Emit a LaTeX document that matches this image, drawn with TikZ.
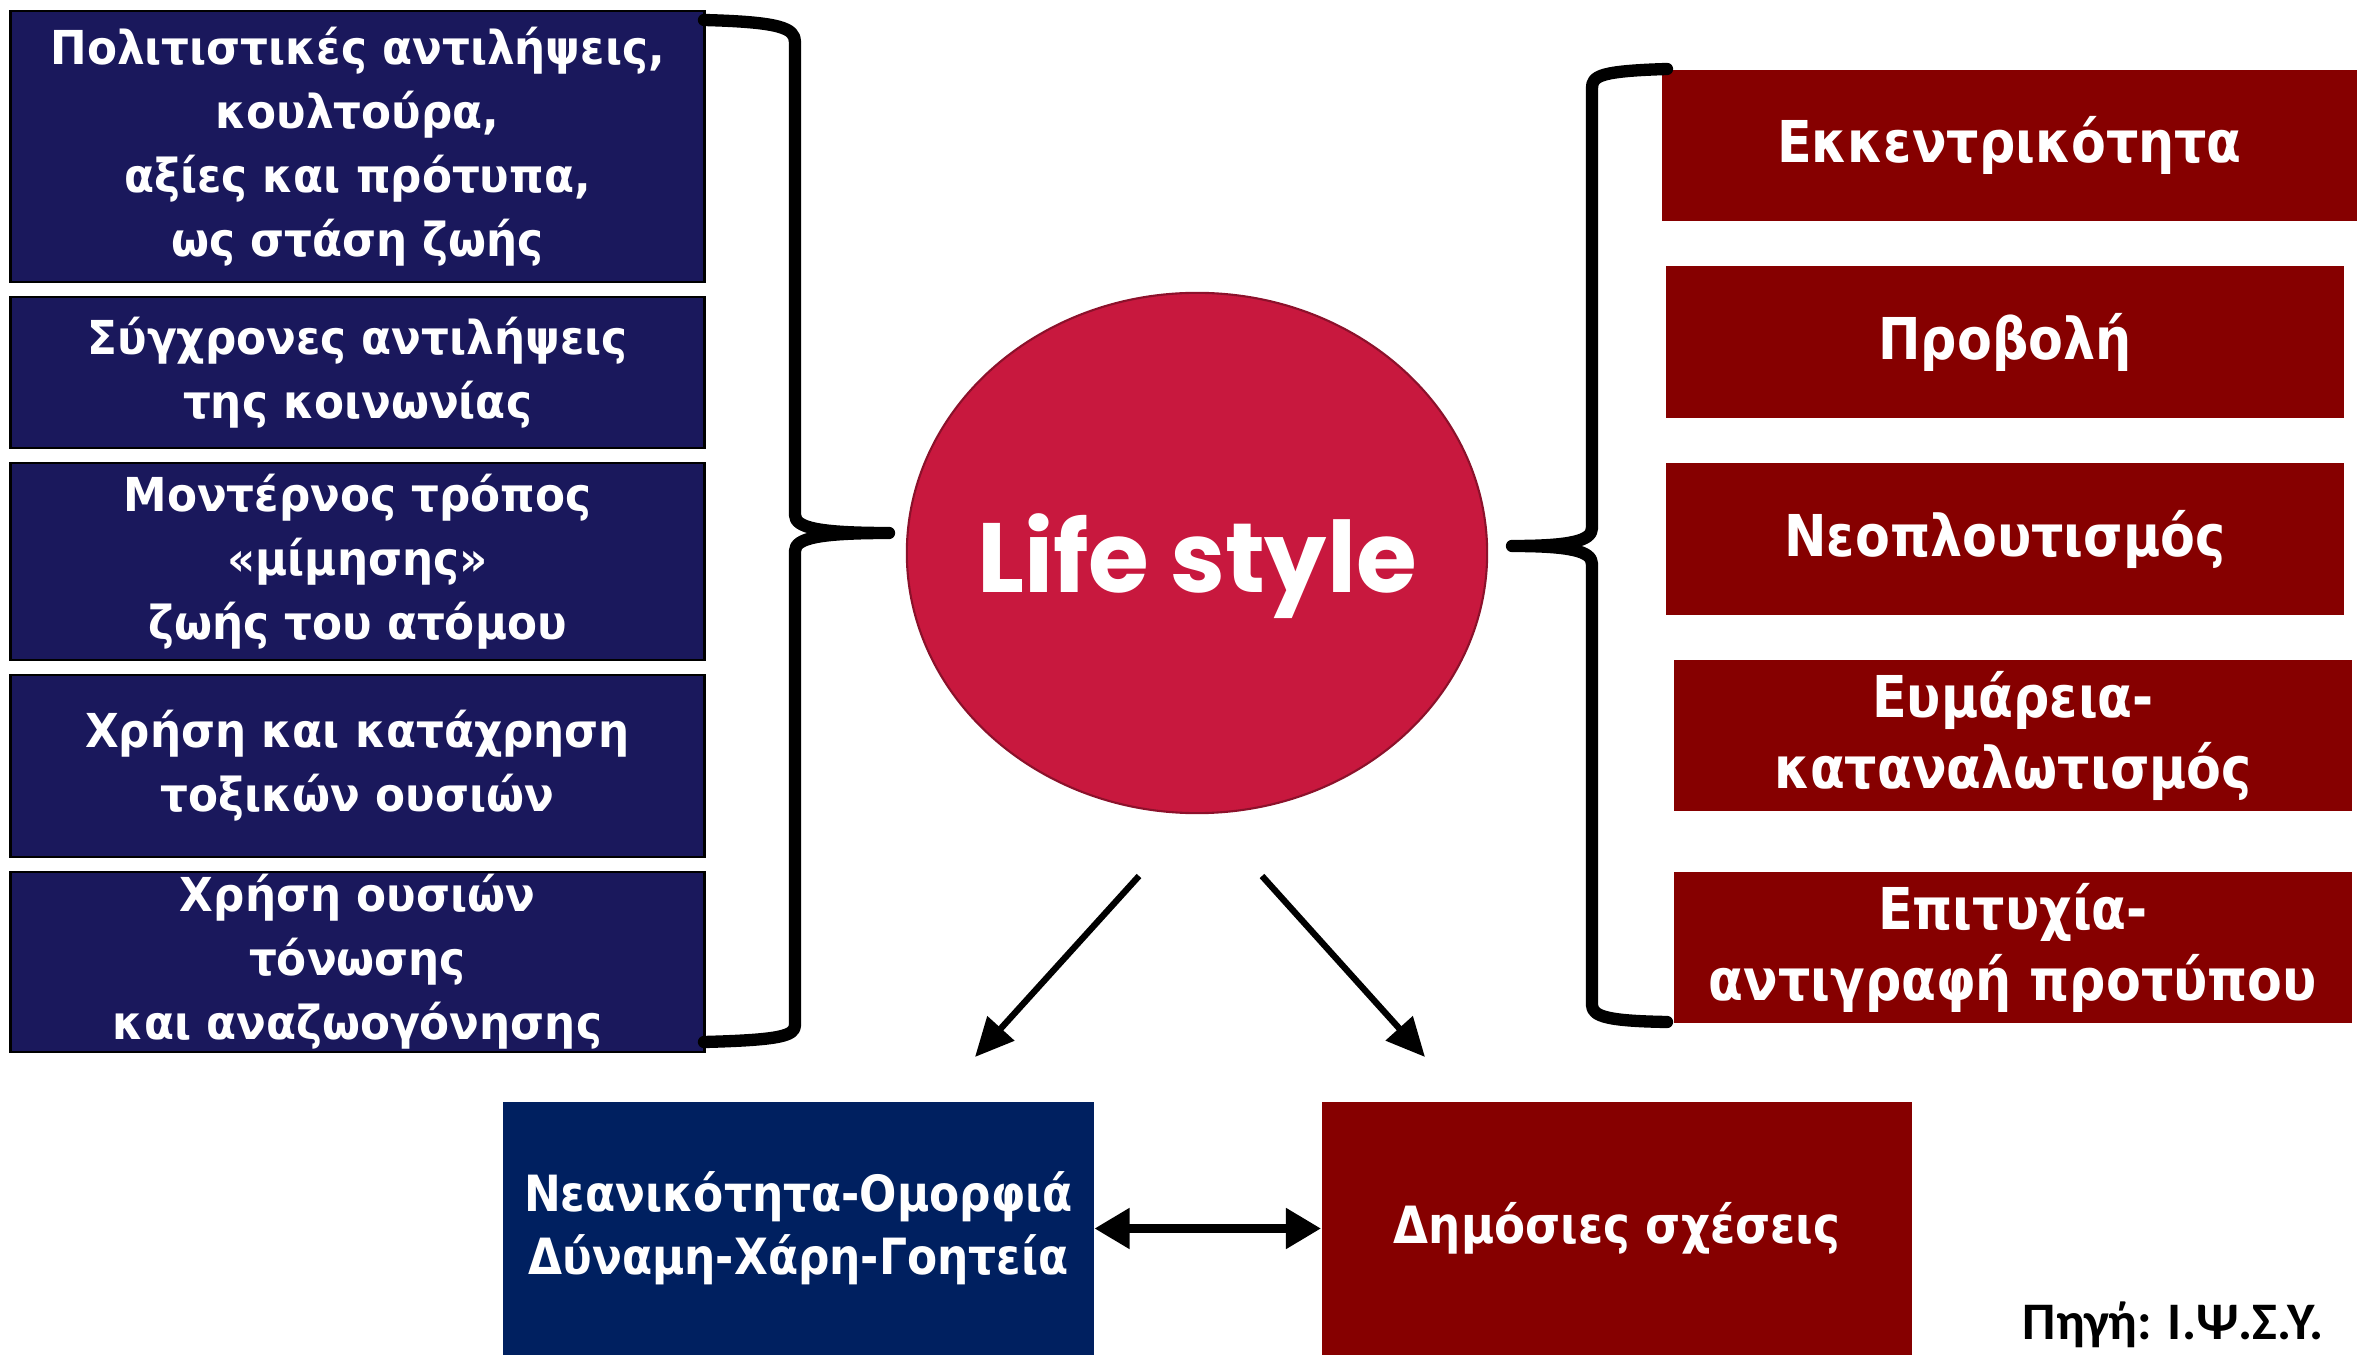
\documentclass[tikz,border=0pt]{standalone}
\usepackage{fontspec}
\usepackage{tikz}
\usetikzlibrary{arrows.meta,positioning,shapes.geometric}
\newfontfamily\boxfont[FakeStretch=0.88]{DejaVu Sans}
\newfontfamily\leftfont[FakeStretch=0.935]{DejaVu Sans}
\newfontfamily\lifefont{Poppins}
\newfontfamily\srcfont{Carlito}
\definecolor{navyblue}{RGB}{26,24,92}
\definecolor{deepnavy}{RGB}{0,32,96}
\definecolor{darkred}{RGB}{134,0,0}
\definecolor{lifered}{RGB}{200,24,62}

\begin{document}
\begin{tikzpicture}[x=0.01cm, y=-0.01cm,
  leftbox/.style={draw=black, line width=0.8pt, fill=navyblue, text=white, minimum width=6.93cm, inner sep=0pt, align=center, font=\leftfont\bfseries\fontsize{13.3}{18.2}\selectfont},
  rightbox/.style={fill=darkred, text=white, minimum width=6.78cm, inner sep=0pt, align=center, font=\boxfont\bfseries\fontsize{16.4}{20.2}\selectfont},
  bottombox/.style={minimum width=5.9cm, minimum height=2.53cm, inner sep=0pt, text=white, align=center, font=\boxfont\bfseries\fontsize{14.2}{17.9}\selectfont},
  bracket/.style={line width=3.5pt, line join=round, line cap=round},
  arrow/.style={-{Triangle[length=11pt,width=10pt]}, line width=1.8pt},
  twoway/.style={{Triangle[length=10pt,width=11pt]}-{Triangle[length=10pt,width=11pt]}, line width=2.8pt}
]
\useasboundingbox (0,0) rectangle (2374,1355);

\node[leftbox, minimum height=2.71cm] (culture) at (357.5,146.5) {Πολιτιστικές αντιλήψεις,\\κουλτούρα,\\αξίες και πρότυπα,\\ως στάση ζωής};
\node[leftbox, minimum height=1.51cm] (society) at (357.5,372.5) {Σύγχρονες αντιλήψεις\\της κοινωνίας};
\node[leftbox, minimum height=1.97cm] (mimesis) at (357.5,561.5) {Μοντέρνος τρόπος\\«μίμησης»\\ζωής του ατόμου};
\node[leftbox, minimum height=1.82cm] (abuse) at (357.5,766) {Χρήση και κατάχρηση\\τοξικών ουσιών};
\node[leftbox, minimum height=1.80cm] (tonic) at (357.5,962) {Χρήση ουσιών\\τόνωσης\\και αναζωογόνησης};

\node[rightbox, minimum width=6.95cm, minimum height=1.51cm] (eccentric) at (2009.5,145.5) {Εκκεντρικότητα};
\node[rightbox, minimum height=1.52cm] (projection) at (2005,342) {Προβολή};
\node[rightbox, minimum height=1.52cm] (nouveau) at (2005,539) {Νεοπλουτισμός};
\node[rightbox, minimum height=1.51cm] (wealth) at (2013,735.5) {Ευμάρεια-\\καταναλωτισμός};
\node[rightbox, minimum height=1.51cm] (success) at (2013,947.5) {Επιτυχία-\\αντιγραφή προτύπου};

\node[ellipse, fill=lifered, draw=lifered!70!black, line width=0.6pt, minimum width=5.8cm, minimum height=5.2cm, inner xsep=-1.8cm, inner ysep=0pt, text depth=0pt, text=white, font=\lifefont\bfseries\fontsize{28}{30}\selectfont] (life) at (1197,553) {Life style};

\node[bottombox, fill=deepnavy] (youth) at (798.5,1228.5) {Νεανικότητα-Ομορφιά\\Δύναμη-Χάρη-Γοητεία};
\node[bottombox, fill=darkred, font=\boxfont\bfseries\fontsize{14.6}{17.9}\selectfont] (relations) at (1617,1228.5) {Δημόσιες σχέσεις};

\node[anchor=base, font=\srcfont\bfseries\fontsize{15}{18}\selectfont] (source) at (2173,1339) {Πηγή: Ι.Ψ.Σ.Υ.};

\draw[bracket] (704,20) .. controls (780,22) and (795,28) .. (795,42) -- (795,515) .. controls (795,528) and (820,533) .. (889,533) .. controls (820,533) and (795,538) .. (795,551) -- (795,1025) .. controls (795,1036) and (780,1040) .. (704,1042);
\draw[bracket] (1667,69) .. controls (1600,71) and (1592,76) .. (1592,88) -- (1592,528) .. controls (1592,541) and (1570,546) .. (1512,546) .. controls (1570,546) and (1592,551) .. (1592,564) -- (1592,1005) .. controls (1592,1017) and (1610,1021) .. (1667,1022);

\coordinate (lefttail) at (1139,876);
\coordinate (lefthead) at (975,1057);
\coordinate (righttail) at (1262,876);
\coordinate (righthead) at (1425,1057);
\draw[arrow] (lefttail) -- (lefthead);
\draw[arrow] (righttail) -- (righthead);
\draw[twoway] (youth) -- (relations);
\end{tikzpicture}
\end{document}
